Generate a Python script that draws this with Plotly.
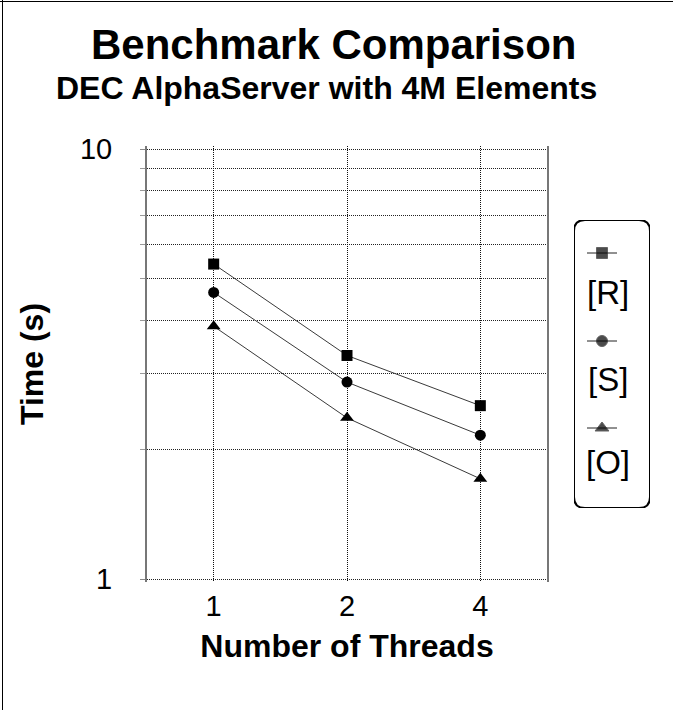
import plotly.graph_objects as go

W, H = 673, 710

threads = ["1", "2", "4"]
series_names = ["[R]", "[S]", "[O]"]
time_R = [5.40, 3.31, 2.53]
time_S = [4.64, 2.87, 2.16]
time_O = [3.87, 2.37, 1.71]
symbols = ["square", "circle", "triangle-up"]
marker_sizes = [11, 11, 12]
y_major = [1, 10]
y_minor = [2, 3, 4, 5, 6, 7, 8, 9]

FONT = "Liberation Sans, Arial, sans-serif"

# pixel -> paper helpers (margins are zero, paper = whole page)
def px(x):
    return x / W

def py(y):
    return 1 - y / H

fig = go.Figure()

for name, vals, sym, ms in zip(series_names, [time_R, time_S, time_O], symbols, marker_sizes):
    fig.add_trace(go.Scatter(
        x=threads, y=vals, name=name, mode="lines+markers",
        line=dict(color="#3a3a3a", width=1),
        marker=dict(symbol=sym, size=ms, color="black"),
        showlegend=False, xaxis="x", yaxis="y",
    ))

# custom legend: sample glyphs drawn on a small helper subplot
leg_left, leg_right, leg_top, leg_bot = 574, 650, 220, 508
leg_w, leg_h = leg_right - leg_left, leg_bot - leg_top
sample_y = [leg_bot - 253, leg_bot - 341, leg_bot - 428]
label_y = [leg_bot - 292, leg_bot - 379, leg_bot - 462]
cx = 602 - leg_left
for name, sym, ms, sy in zip(series_names, symbols, marker_sizes, sample_y):
    fig.add_trace(go.Scatter(
        x=[cx - 15, cx, cx + 15], y=[sy, sy, sy], mode="lines+markers",
        line=dict(color="#222222", width=1),
        marker=dict(symbol=sym, size=[0, ms, 0], color="black"),
        showlegend=False, hoverinfo="skip", xaxis="x2", yaxis="y2",
    ))
for name, ly in zip(series_names, label_y):
    fig.add_annotation(x=608 - leg_left, y=ly, xref="x2", yref="y2", text=name,
                       xanchor="center", yanchor="middle",
                       showarrow=False, font=dict(family=FONT, size=33, color="black"))

r = 11
path = (f"M {r},0 L {leg_w - r},0 Q {leg_w},0 {leg_w},{r} L {leg_w},{leg_h - r} "
        f"Q {leg_w},{leg_h} {leg_w - r},{leg_h} L {r},{leg_h} Q 0,{leg_h} 0,{leg_h - r} "
        f"L 0,{r} Q 0,0 {r},0 Z")
fig.add_shape(type="path", path=path, xref="x2", yref="y2",
              line=dict(color="black", width=2))

# titles
fig.add_annotation(x=px(333), y=py(44), xref="paper", yref="paper",
                   xanchor="center", yanchor="middle",
                   text="<b>Benchmark Comparison</b>", showarrow=False,
                   font=dict(family=FONT, size=42, color="black"))
fig.add_annotation(x=px(326), y=py(88), xref="paper", yref="paper",
                   xanchor="center", yanchor="middle",
                   text="<b>DEC AlphaServer with 4M Elements</b>", showarrow=False,
                   font=dict(family=FONT, size=32, color="black"))

# page frame (left and top edges)
fig.add_shape(type="line", xref="paper", yref="paper", x0=px(2.5), x1=px(2.5), y0=0, y1=1,
              line=dict(color="black", width=1))
fig.add_shape(type="line", xref="paper", yref="paper", x0=0, x1=1, y0=py(1.5), y1=py(1.5),
              line=dict(color="black", width=1))

# plot area: log10 = 0 at y=579px, log10 = 1 at y=149px; padded slightly so the
# edge gridlines (1 and 10) are drawn inside the area
pl, pr = 147, 547
pad = 0.008
decade_px = 579 - 149
pt, pb = 149 - pad * decade_px, 579 + pad * decade_px

fig.update_layout(
    width=W, height=H,
    margin=dict(l=0, r=0, t=0, b=0, autoexpand=False),
    paper_bgcolor="white", plot_bgcolor="white",
    font=dict(family=FONT, color="black"),
    xaxis=dict(
        domain=[px(pl), px(pr)], type="category", range=[-0.5, 2.5],
        showgrid=True, gridcolor="#111111", griddash="1px,1px", gridwidth=1,
        showline=False, zeroline=False, ticks="", automargin=False,
        ticklabelstandoff=4,
        tickfont=dict(family=FONT, size=29, color="black"),
        title=dict(text="<b>Number of Threads</b>", font=dict(family=FONT, size=32), standoff=13),
        anchor="y",
    ),
    yaxis=dict(
        domain=[py(pb), py(pt)], type="log", range=[-pad, 1 + pad],
        tickvals=y_major, ticktext=[str(v) for v in y_major],
        showgrid=True, gridcolor="#222222", griddash="1px,1px", gridwidth=1,
        showline=True, linecolor="#777777", linewidth=2, mirror=True,
        ticks="outside", ticklen=5, tickcolor="#888888", automargin=False,
        ticklabelstandoff=22,
        tickfont=dict(family=FONT, size=29, color="black"),
        minor=dict(tickvals=y_minor, showgrid=True, gridcolor="#222222", griddash="1px,1px",
                   gridwidth=1, ticks="outside", ticklen=5, tickcolor="#999999"),
        title=dict(text="<b>Time (s)</b>", font=dict(family=FONT, size=32), standoff=27),
        zeroline=False, anchor="x",
    ),
    xaxis2=dict(domain=[px(leg_left), px(leg_right)], range=[0, leg_w], visible=False,
                anchor="y2", fixedrange=True, automargin=False),
    yaxis2=dict(domain=[py(leg_bot), py(leg_top)], range=[0, leg_h], visible=False,
                anchor="x2", fixedrange=True, automargin=False),
    showlegend=False,
)

fig.write_html("out.html")
